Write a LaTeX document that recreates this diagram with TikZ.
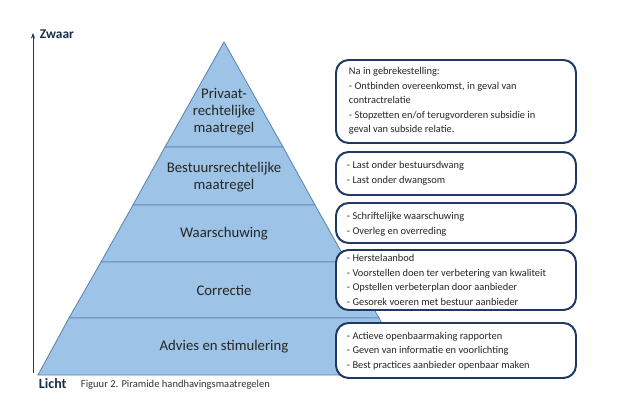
\documentclass[tikz,border=0pt]{standalone}
\usepackage{fontspec}
\setmainfont{Carlito}
\usetikzlibrary{positioning, arrows.meta}
\definecolor{laag}{HTML}{9DC3E6}
\definecolor{rand}{HTML}{5B84B1}
\definecolor{donker}{HTML}{1F3864}
\begin{document}
\begin{tikzpicture}
        [x=0.025cm, y=-0.025cm,
         layer/.style={fill=laag, draw=rand, line width=0.6pt},
         label/.style={align=center, font=\fontsize{10.5}{12}\selectfont, text=black!85},
         box/.style={draw=donker, line width=1.4pt, rounded corners=9pt, fill=white},
         boxtext/.style={align=left, anchor=west, font=\fontsize{7.4}{10.4}\selectfont, text=black!85},
         >={Stealth[length=4pt]}]
        \useasboundingbox (0,0) rectangle (631,401);

        % pyramid layers, apex (224,42), slope 0.56
        \draw[layer] (224,42) -- (283,147) -- (165,147) -- cycle;
        \draw[layer] (165,147) -- (283,147) -- (315,205) -- (133,205) -- cycle;
        \draw[layer] (133,205) -- (315,205) -- (347,262) -- (101,262) -- cycle;
        \draw[layer] (101,262) -- (347,262) -- (379,318) -- (69,318) -- cycle;
        \draw[layer] (69,318) -- (379,318) -- (410,375) -- (38,375) -- cycle;

        \node[label] (priv) at (224,112) {Privaat-\\rechtelijke\\maatregel};
        \node[label] (bestuur) at (224,177) {Bestuursrechtelijke\\maatregel};
        \node[label] (waarsch) at (224,234) {Waarschuwing};
        \node[label] (correc) at (224,290) {Correctie};
        \node[label] (advies) at (224,347) {Advies en stimulering};

        % axis
        \coordinate (licht) at (33,373);
        \coordinate (zwaar) at (33,33);
        \draw[->, donker, line width=0.5pt] (licht) -- (zwaar);
        \node[anchor=west, font=\bfseries\fontsize{9.5}{10}\selectfont, text=donker!80!black] (zw) at (35,34) {Zwaar};
        \node[anchor=west, font=\bfseries\fontsize{10}{11}\selectfont, text=donker!80!black] (li) at (34,384) {Licht};
        \node[anchor=west, font=\fontsize{7.5}{8}\selectfont, text=black!80] (fig) at (76,385) {Figuur 2. Piramide handhavingsmaatregelen};

        % boxes
        \draw[box] (336,60) rectangle (576,143);
        \draw[box] (336,152) rectangle (576,195);
        \draw[box] (336,203) rectangle (576,243);
        \draw[box] (336,250) rectangle (576,310);
        \draw[box] (336,323) rectangle (576,378);

        \node[boxtext] (t1) at (344,101) {Na in gebrekestelling:\\- Ontbinden overeenkomst, in geval van\\contractrelatie\\- Stopzetten en/of terugvorderen subsidie in\\geval van subside relatie.};
        \node[boxtext] (t2) at (342,173) {- Last onder bestuursdwang\\- Last onder dwangsom};
        \node[boxtext] (t3) at (342,224) {- Schriftelijke waarschuwing\\- Overleg en overreding};
        \node[boxtext] (t4) at (342,280) {- Herstelaanbod\\- Voorstellen doen ter verbetering van kwaliteit\\- Opstellen verbeterplan door aanbieder\\- Gesorek voeren met bestuur aanbieder};
        \node[boxtext] (t5) at (342,351) {- Actieve openbaarmaking rapporten\\- Geven van informatie en voorlichting\\- Best practices aanbieder openbaar maken};
\end{tikzpicture}
\end{document}
